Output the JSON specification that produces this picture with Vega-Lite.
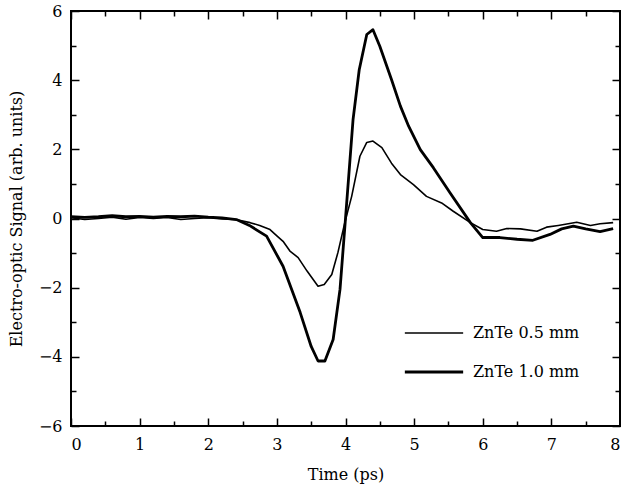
{
  "$schema": "https://vega.github.io/schema/vega-lite/v6.json",
  "width": 549,
  "height": 415,
  "autosize": "none",
  "padding": {"left": 71, "top": 11, "right": 1, "bottom": 67},
  "config": {
    "view": {"stroke": "black", "strokeWidth": 2},
    "font": "DejaVu Serif",
    "axis": {"zindex": 1, "domain": false, "grid": false, "labelFont": "DejaVu Serif", "labelFontSize": 16, "labelColor": "black", "titleFont": "DejaVu Serif", "titleFontSize": 16, "titleFontWeight": "normal", "titleColor": "black", "format": "~g"}
  },
  "data": {"values": [
    {"t": 0, "s": 0.02, "series": "ZnTe 0.5 mm"},
    {"t": 0.2, "s": -0.03, "series": "ZnTe 0.5 mm"},
    {"t": 0.4, "s": 0.0, "series": "ZnTe 0.5 mm"},
    {"t": 0.6, "s": 0.04, "series": "ZnTe 0.5 mm"},
    {"t": 0.8, "s": -0.02, "series": "ZnTe 0.5 mm"},
    {"t": 1.0, "s": 0.03, "series": "ZnTe 0.5 mm"},
    {"t": 1.2, "s": 0.0, "series": "ZnTe 0.5 mm"},
    {"t": 1.4, "s": 0.03, "series": "ZnTe 0.5 mm"},
    {"t": 1.6, "s": -0.03, "series": "ZnTe 0.5 mm"},
    {"t": 1.8, "s": 0.0, "series": "ZnTe 0.5 mm"},
    {"t": 2.0, "s": 0.02, "series": "ZnTe 0.5 mm"},
    {"t": 2.2, "s": -0.01, "series": "ZnTe 0.5 mm"},
    {"t": 2.4, "s": -0.03, "series": "ZnTe 0.5 mm"},
    {"t": 2.61, "s": -0.12, "series": "ZnTe 0.5 mm"},
    {"t": 2.75, "s": -0.2, "series": "ZnTe 0.5 mm"},
    {"t": 2.9, "s": -0.32, "series": "ZnTe 0.5 mm"},
    {"t": 3.0, "s": -0.5, "series": "ZnTe 0.5 mm"},
    {"t": 3.09, "s": -0.66, "series": "ZnTe 0.5 mm"},
    {"t": 3.19, "s": -0.94, "series": "ZnTe 0.5 mm"},
    {"t": 3.31, "s": -1.13, "series": "ZnTe 0.5 mm"},
    {"t": 3.44, "s": -1.52, "series": "ZnTe 0.5 mm"},
    {"t": 3.6, "s": -1.96, "series": "ZnTe 0.5 mm"},
    {"t": 3.69, "s": -1.91, "series": "ZnTe 0.5 mm"},
    {"t": 3.8, "s": -1.62, "series": "ZnTe 0.5 mm"},
    {"t": 3.89, "s": -0.98, "series": "ZnTe 0.5 mm"},
    {"t": 3.99, "s": -0.12, "series": "ZnTe 0.5 mm"},
    {"t": 4.09, "s": 0.64, "series": "ZnTe 0.5 mm"},
    {"t": 4.21, "s": 1.8, "series": "ZnTe 0.5 mm"},
    {"t": 4.31, "s": 2.2, "series": "ZnTe 0.5 mm"},
    {"t": 4.4, "s": 2.24, "series": "ZnTe 0.5 mm"},
    {"t": 4.53, "s": 2.05, "series": "ZnTe 0.5 mm"},
    {"t": 4.67, "s": 1.6, "series": "ZnTe 0.5 mm"},
    {"t": 4.8, "s": 1.27, "series": "ZnTe 0.5 mm"},
    {"t": 4.99, "s": 0.98, "series": "ZnTe 0.5 mm"},
    {"t": 5.18, "s": 0.64, "series": "ZnTe 0.5 mm"},
    {"t": 5.4, "s": 0.45, "series": "ZnTe 0.5 mm"},
    {"t": 5.57, "s": 0.21, "series": "ZnTe 0.5 mm"},
    {"t": 5.82, "s": -0.12, "series": "ZnTe 0.5 mm"},
    {"t": 6.0, "s": -0.32, "series": "ZnTe 0.5 mm"},
    {"t": 6.2, "s": -0.37, "series": "ZnTe 0.5 mm"},
    {"t": 6.35, "s": -0.29, "series": "ZnTe 0.5 mm"},
    {"t": 6.55, "s": -0.3, "series": "ZnTe 0.5 mm"},
    {"t": 6.79, "s": -0.37, "series": "ZnTe 0.5 mm"},
    {"t": 6.93, "s": -0.25, "series": "ZnTe 0.5 mm"},
    {"t": 7.1, "s": -0.2, "series": "ZnTe 0.5 mm"},
    {"t": 7.37, "s": -0.11, "series": "ZnTe 0.5 mm"},
    {"t": 7.57, "s": -0.2, "series": "ZnTe 0.5 mm"},
    {"t": 7.71, "s": -0.15, "series": "ZnTe 0.5 mm"},
    {"t": 7.9, "s": -0.12, "series": "ZnTe 0.5 mm"},
    {"t": 0, "s": 0.05, "series": "ZnTe 1.0 mm"},
    {"t": 0.2, "s": 0.03, "series": "ZnTe 1.0 mm"},
    {"t": 0.4, "s": 0.05, "series": "ZnTe 1.0 mm"},
    {"t": 0.6, "s": 0.08, "series": "ZnTe 1.0 mm"},
    {"t": 0.8, "s": 0.05, "series": "ZnTe 1.0 mm"},
    {"t": 1.0, "s": 0.06, "series": "ZnTe 1.0 mm"},
    {"t": 1.2, "s": 0.04, "series": "ZnTe 1.0 mm"},
    {"t": 1.4, "s": 0.06, "series": "ZnTe 1.0 mm"},
    {"t": 1.6, "s": 0.05, "series": "ZnTe 1.0 mm"},
    {"t": 1.8, "s": 0.07, "series": "ZnTe 1.0 mm"},
    {"t": 2.0, "s": 0.04, "series": "ZnTe 1.0 mm"},
    {"t": 2.2, "s": 0.02, "series": "ZnTe 1.0 mm"},
    {"t": 2.41, "s": -0.03, "series": "ZnTe 1.0 mm"},
    {"t": 2.6, "s": -0.2, "series": "ZnTe 1.0 mm"},
    {"t": 2.85, "s": -0.51, "series": "ZnTe 1.0 mm"},
    {"t": 3.09, "s": -1.38, "series": "ZnTe 1.0 mm"},
    {"t": 3.34, "s": -2.72, "series": "ZnTe 1.0 mm"},
    {"t": 3.5, "s": -3.7, "series": "ZnTe 1.0 mm"},
    {"t": 3.6, "s": -4.12, "series": "ZnTe 1.0 mm"},
    {"t": 3.7, "s": -4.12, "series": "ZnTe 1.0 mm"},
    {"t": 3.82, "s": -3.5, "series": "ZnTe 1.0 mm"},
    {"t": 3.92, "s": -2.05, "series": "ZnTe 1.0 mm"},
    {"t": 4.0, "s": 0.0, "series": "ZnTe 1.0 mm"},
    {"t": 4.11, "s": 2.86, "series": "ZnTe 1.0 mm"},
    {"t": 4.2, "s": 4.3, "series": "ZnTe 1.0 mm"},
    {"t": 4.31, "s": 5.32, "series": "ZnTe 1.0 mm"},
    {"t": 4.4, "s": 5.46, "series": "ZnTe 1.0 mm"},
    {"t": 4.5, "s": 4.98, "series": "ZnTe 1.0 mm"},
    {"t": 4.67, "s": 4.02, "series": "ZnTe 1.0 mm"},
    {"t": 4.8, "s": 3.25, "series": "ZnTe 1.0 mm"},
    {"t": 4.92, "s": 2.67, "series": "ZnTe 1.0 mm"},
    {"t": 5.09, "s": 1.99, "series": "ZnTe 1.0 mm"},
    {"t": 5.28, "s": 1.47, "series": "ZnTe 1.0 mm"},
    {"t": 5.52, "s": 0.75, "series": "ZnTe 1.0 mm"},
    {"t": 5.82, "s": -0.12, "series": "ZnTe 1.0 mm"},
    {"t": 6.0, "s": -0.55, "series": "ZnTe 1.0 mm"},
    {"t": 6.25, "s": -0.55, "series": "ZnTe 1.0 mm"},
    {"t": 6.5, "s": -0.6, "series": "ZnTe 1.0 mm"},
    {"t": 6.73, "s": -0.63, "series": "ZnTe 1.0 mm"},
    {"t": 6.98, "s": -0.46, "series": "ZnTe 1.0 mm"},
    {"t": 7.15, "s": -0.3, "series": "ZnTe 1.0 mm"},
    {"t": 7.32, "s": -0.22, "series": "ZnTe 1.0 mm"},
    {"t": 7.5, "s": -0.3, "series": "ZnTe 1.0 mm"},
    {"t": 7.71, "s": -0.38, "series": "ZnTe 1.0 mm"},
    {"t": 7.9, "s": -0.29, "series": "ZnTe 1.0 mm"}
  ]},
  "layer": [
    {
      "mark": {"type": "line", "color": "black", "strokeJoin": "round"},
      "encoding": {
        "x": {"field": "t", "type": "quantitative", "scale": {"domain": [0, 8], "nice": false},
          "axis": {"orient": "bottom", "title": "Time (ps)", "values": [0,1,2,3,4,5,6,7,8], "ticks": true, "tickColor": "black", "tickWidth": 1.5, "tickSize": -8, "labelPadding": 18, "titlePadding": 14}},
        "y": {"field": "s", "type": "quantitative", "scale": {"domain": [-6, 6], "nice": false, "zero": false},
          "axis": {"orient": "left", "title": "Electro-optic Signal (arb. units)", "values": [-6,-4,-2,0,2,4,6], "ticks": true, "tickColor": "black", "tickWidth": 1.5, "tickSize": -8, "labelPadding": 17, "titlePadding": 14}},
        "strokeWidth": {"field": "series", "type": "nominal",
          "scale": {"domain": ["ZnTe 0.5 mm", "ZnTe 1.0 mm"], "range": [1.6, 2.8]},
          "legend": {"title": null, "orient": "none", "legendX": 332, "legendY": 292, "symbolType": "stroke", "symbolSize": 3400, "symbolStrokeColor": "black", "labelFont": "DejaVu Serif", "labelFontSize": 16, "labelColor": "black", "labelOffset": 8, "rowPadding": -18}},
        "detail": {"field": "series"}
      }
    },
    {
      "mark": {"type": "line", "strokeOpacity": 0},
      "encoding": {
        "x": {"field": "t", "type": "quantitative", "scale": {"domain": [0, 8], "nice": false},
          "axis": {"orient": "top", "title": null, "values": [0,1,2,3,4,5,6,7,8], "ticks": true, "tickColor": "black", "tickWidth": 1.5, "tickSize": -8, "labels": false}},
        "y": {"field": "s", "type": "quantitative", "scale": {"domain": [-6, 6], "nice": false, "zero": false},
          "axis": {"orient": "right", "title": null, "values": [-6,-4,-2,0,2,4,6], "ticks": true, "tickColor": "black", "tickWidth": 1.5, "tickSize": -8, "labels": false}},
        "detail": {"field": "series"}
      }
    },
    {
      "mark": {"type": "line", "strokeOpacity": 0},
      "encoding": {
        "x": {"field": "t", "type": "quantitative", "scale": {"domain": [0, 8], "nice": false},
          "axis": {"orient": "bottom", "title": null, "values": [0.5,1.5,2.5,3.5,4.5,5.5,6.5,7.5], "ticks": true, "tickColor": "black", "tickWidth": 1.5, "tickSize": -5, "labels": false}},
        "y": {"field": "s", "type": "quantitative", "scale": {"domain": [-6, 6], "nice": false, "zero": false},
          "axis": {"orient": "left", "title": null, "values": [-5,-3,-1,1,3,5], "ticks": true, "tickColor": "black", "tickWidth": 1.5, "tickSize": -5, "labels": false}},
        "detail": {"field": "series"}
      }
    },
    {
      "mark": {"type": "line", "strokeOpacity": 0},
      "encoding": {
        "x": {"field": "t", "type": "quantitative", "scale": {"domain": [0, 8], "nice": false},
          "axis": {"orient": "top", "title": null, "values": [0.5,1.5,2.5,3.5,4.5,5.5,6.5,7.5], "ticks": true, "tickColor": "black", "tickWidth": 1.5, "tickSize": -5, "labels": false}},
        "y": {"field": "s", "type": "quantitative", "scale": {"domain": [-6, 6], "nice": false, "zero": false},
          "axis": {"orient": "right", "title": null, "values": [-5,-3,-1,1,3,5], "ticks": true, "tickColor": "black", "tickWidth": 1.5, "tickSize": -5, "labels": false}},
        "detail": {"field": "series"}
      }
    }
  ],
  "resolve": {"axis": {"x": "independent", "y": "independent"}}
}
